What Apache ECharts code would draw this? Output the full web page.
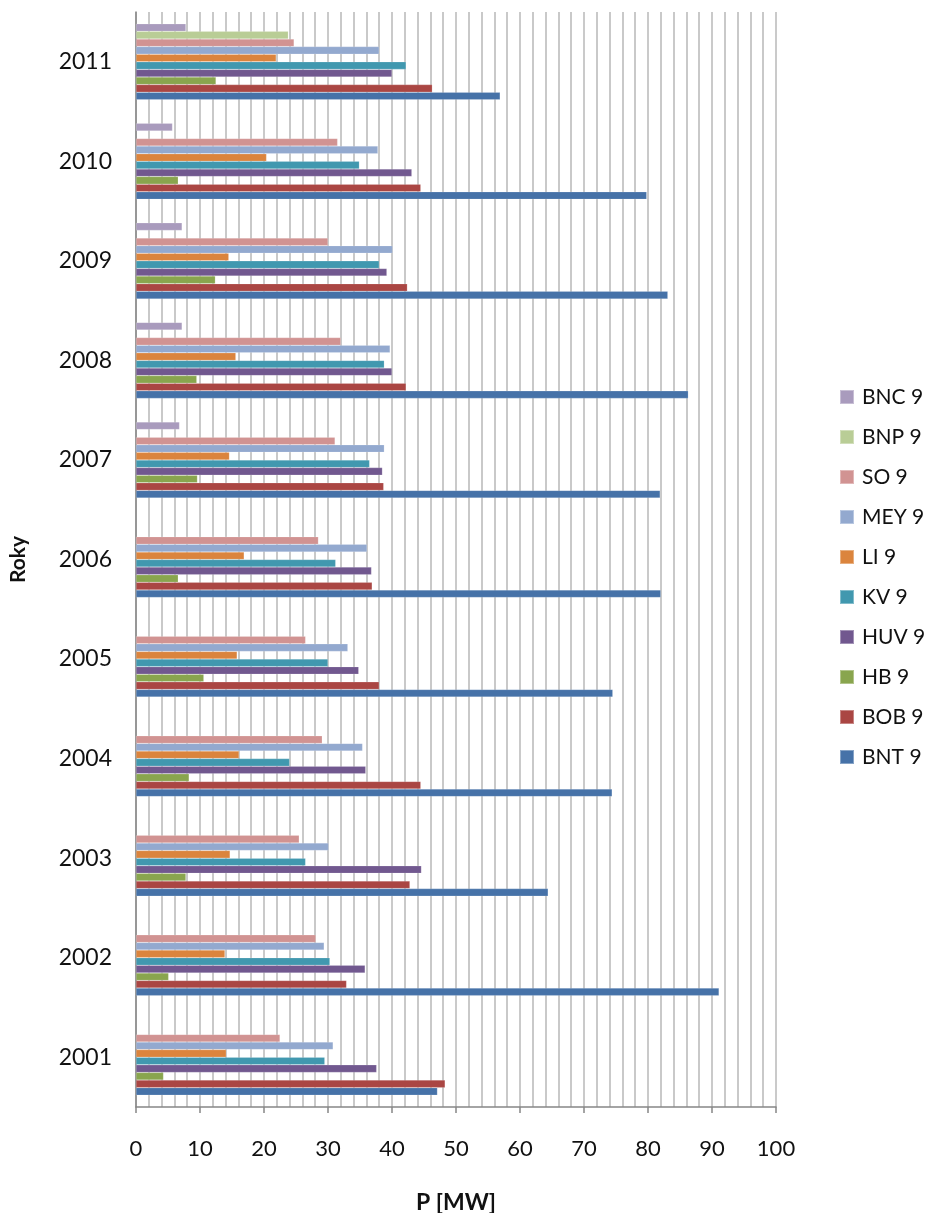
<!DOCTYPE html>
<html>
<head>
<meta charset="utf-8">
<script src="https://cdn.jsdelivr.net/npm/echarts@6/dist/echarts.min.js"></script>
<style>
html,body{margin:0;padding:0;background:#fff;}
#chart{width:928px;height:1213px;}
</style>
</head>
<body>
<div id="chart"></div>
<script>
const years = ['2001','2002','2003','2004','2005','2006','2007','2008','2009','2010','2011'];
const xTicks = [0,10,20,30,40,50,60,70,80,90,100];

const BNT = [47.1, 91.1, 64.4, 74.4, 74.5, 82.0, 81.9, 86.3, 83.1, 79.8, 56.9];
const BOB = [48.3, 32.9, 42.8, 44.5, 38.0, 36.9, 38.7, 42.2, 42.4, 44.5, 46.3];
const HB  = [4.3, 5.1, 7.8, 8.3, 10.6, 6.6, 9.6, 9.5, 12.4, 6.6, 12.5];
const HUV = [37.6, 35.8, 44.6, 35.9, 34.8, 36.8, 38.5, 40.0, 39.2, 43.1, 40.0];
const KV  = [29.5, 30.3, 26.5, 24.0, 30.0, 31.2, 36.5, 38.8, 38.0, 34.9, 42.2];
const LI  = [14.1, 13.9, 14.7, 16.1, 15.8, 16.9, 14.6, 15.6, 14.5, 20.4, 21.9];
const MEY = [30.8, 29.4, 30.1, 35.4, 33.1, 36.1, 38.8, 39.7, 40.1, 37.8, 38.0];
const SO  = [22.5, 28.1, 25.5, 29.1, 26.5, 28.5, 31.1, 32.0, 30.0, 31.5, 24.7];
const BNP = [null, null, null, null, null, null, null, null, null, null, 23.8];
const BNC = [null, null, null, null, null, null, 6.8, 7.2, 7.2, 5.7, 7.8];

// listed top-to-bottom within each year group (as in legend)
const seriesNames = ['BNC 9','BNP 9','SO 9','MEY 9','LI 9','KV 9','HUV 9','HB 9','BOB 9','BNT 9'];
const seriesData = [BNC, BNP, SO, MEY, LI, KV, HUV, HB, BOB, BNT];
const colors = ['#A99BBD','#B9CD96','#D19392','#93A9CF','#DB843D','#4198AF','#71588F','#89A54E','#AA4643','#4672A8'];

const FONT = 'Lato, "Open Sans", sans-serif';

const chart = echarts.init(document.getElementById('chart'), null, {renderer:'canvas'});
chart.setOption({
  backgroundColor: '#ffffff',
  animation: false,
  color: colors,
  grid: {left: 136, right: 152, top: 12, bottom: 106, containLabel: false, outerBoundsMode: 'none'},
  legend: {
    orient: 'vertical',
    left: 839,
    top: 386,
    padding: 0,
    data: seriesNames,
    icon: 'rect',
    itemWidth: 14,
    itemHeight: 14,
    itemGap: 18,
    textStyle: {fontFamily: FONT, fontSize: 21, color: '#111', lineHeight: 22, padding: [0,0,0,3]}
  },
  xAxis: {
    type: 'value',
    min: 0, max: 100, interval: 10,
    name: 'P [MW]',
    nameLocation: 'middle',
    nameGap: 84,
    nameTextStyle: {fontFamily: FONT, fontSize: 23, fontWeight: 'bold', color: '#111'},
    axisLine: {show: true, lineStyle: {color: '#868686', width: 1.5}},
    axisTick: {show: true, length: 6, lineStyle: {color: '#868686', width: 1.5}},
    axisLabel: {fontFamily: FONT, fontSize: 22, color: '#111', margin: 31,
      formatter: function (v) { return xTicks.indexOf(v) >= 0 ? String(v) : ''; }},
    splitLine: {show: true, lineStyle: {color: '#b8b8b8', width: 1.5}},
    minorTick: {show: false, splitNumber: 5},
    minorSplitLine: {show: true, lineStyle: {color: '#b8b8b8', width: 1.5}}
  },
  yAxis: {
    type: 'category',
    data: years,
    name: 'Roky',
    nameLocation: 'middle',
    nameGap: 107,
    nameRotate: 90,
    nameTextStyle: {fontFamily: FONT, fontSize: 21, fontWeight: 'bold', color: '#111'},
    axisLine: {show: true, lineStyle: {color: '#868686', width: 1.5}},
    axisTick: {show: false},
    axisLabel: {fontFamily: FONT, fontSize: 23, color: '#111', margin: 24},
    splitLine: {show: false}
  },
  series: seriesNames.map(function (name, i) {
    return {
      name: name,
      type: 'bar',
      data: seriesData[i],
      barGap: '0%',
      barCategoryGap: '23.6%',
      itemStyle: {color: colors[i], borderColor: 'rgba(255,255,255,0.35)', borderWidth: 0.5}
    };
  })
});
</script>
</body>
</html>
